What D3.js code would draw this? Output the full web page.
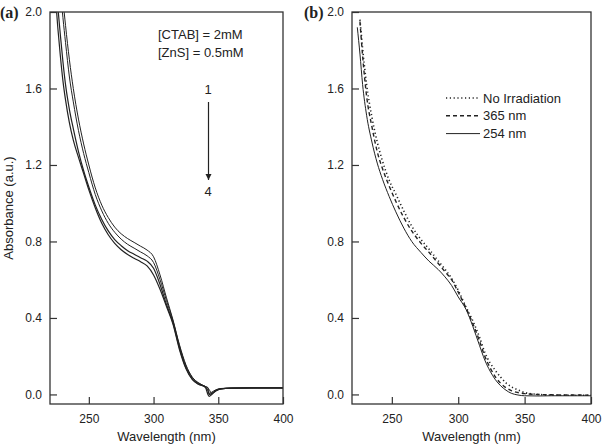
<!DOCTYPE html>
<html>
<head>
<meta charset="utf-8">
<script src="https://cdn.jsdelivr.net/npm/d3@7"></script>
<style>
  body { margin: 0; background: #fff; }
  svg { display: block; font-family: 'Liberation Sans', Arial, sans-serif; }
</style>
</head>
<body>
<svg id="chart" width="602" height="445"></svg>
<script>
/* ---------- data ---------- */
const xTicks = [250, 300, 350, 400];
const yTicks = [0, 0.4, 0.8, 1.2, 1.6, 2.0];

// panel (a): spectra 1..4
const waveA = [224, 226, 228, 230, 232, 235, 238, 242, 246, 250, 255, 260, 265, 270, 275, 280, 285, 290,
  295, 300, 305, 310, 315, 320, 325, 330, 335, 340, 342, 343, 345, 348, 352, 360, 380, 400];
const absA1 = [2.6, 2.42, 2.26, 2.07, 1.93, 1.75, 1.6, 1.44, 1.31, 1.2, 1.08, 0.99, 0.925, 0.875, 0.84, 0.815,
  0.795, 0.775, 0.755, 0.72, 0.625, 0.505, 0.39, 0.26, 0.155, 0.09, 0.06, 0.042, 0.036, 0.005, 0.012, 0.024,
  0.03, 0.033, 0.034, 0.034];
const absA2 = [2.45, 2.27, 2.12, 1.97, 1.84, 1.66, 1.53, 1.38, 1.26, 1.16, 1.045, 0.96, 0.895, 0.848, 0.812,
  0.785, 0.765, 0.745, 0.725, 0.69, 0.6, 0.49, 0.385, 0.255, 0.15, 0.087, 0.058, 0.041, 0.034, 0.025, 0.004,
  0.018, 0.028, 0.033, 0.034, 0.034];
const absA3 = [2.2, 2.03, 1.88, 1.74, 1.62, 1.49, 1.39, 1.27, 1.17, 1.085, 0.99, 0.915, 0.855, 0.81, 0.778,
  0.752, 0.733, 0.715, 0.697, 0.66, 0.575, 0.47, 0.375, 0.243, 0.14, 0.08, 0.054, 0.039, 0.02, 0.0, 0.006,
  0.02, 0.03, 0.033, 0.034, 0.034];
const absA4 = [2.1, 1.92, 1.77, 1.64, 1.54, 1.42, 1.33, 1.24, 1.155, 1.07, 0.975, 0.895, 0.835, 0.79, 0.757,
  0.732, 0.712, 0.694, 0.672, 0.625, 0.55, 0.46, 0.368, 0.235, 0.135, 0.077, 0.052, 0.038, 0.0, -0.01, 0.0,
  0.018, 0.029, 0.033, 0.034, 0.034];

// panel (b): irradiation
const waveB = [224, 226, 228, 231, 235, 239, 243, 248, 253, 259, 265, 272, 278, 285, 290, 295, 300, 306, 311,
  316, 320, 324, 328, 332, 336, 340, 345, 350, 360, 370, 380, 390, 400];
const absNone = [null, 1.96, 1.81, 1.62, 1.45, 1.32, 1.22, 1.12, 1.048, 0.96, 0.88, 0.81, 0.76, 0.698, 0.655,
  0.607, 0.545, 0.455, 0.385, 0.3, 0.22, 0.165, 0.125, 0.09, 0.06, 0.04, 0.024, 0.01, 0.0, -0.003, -0.004,
  -0.004, -0.004];
const abs365 = [null, 1.95, 1.77, 1.56, 1.4, 1.27, 1.18, 1.09, 1.01, 0.925, 0.855, 0.79, 0.743, 0.685, 0.642,
  0.6, 0.535, 0.45, 0.37, 0.28, 0.2, 0.14, 0.092, 0.058, 0.035, 0.02, 0.01, 0.004, 0.0, -0.002, -0.003,
  -0.003, -0.004];
const abs254 = [1.92, 1.78, 1.62, 1.46, 1.32, 1.21, 1.125, 1.035, 0.955, 0.87, 0.8, 0.742, 0.697, 0.653, 0.615,
  0.57, 0.51, 0.443, 0.356, 0.257, 0.18, 0.122, 0.077, 0.045, 0.022, 0.006, -0.003, -0.007, -0.008, -0.007,
  -0.007, -0.007, -0.007];
const legendB = ['No Irradiation', '365 nm', '254 nm'];

/* ---------- panel helper ---------- */
const svg = d3.select('#chart');
const ink = '#222';

function drawPanel(id, left, right, label, labelX, series) {
  const x = d3.scaleLinear().domain([220, 400]).range([left, right]);
  const y = d3.scaleLinear().domain([-0.05, 2.0]).range([404, 12]);
  const g = svg.append('g');

  g.append('clipPath')
    .attr('id', 'clip-' + id)
    .append('rect')
    .attr('x', left).attr('y', 12)
    .attr('width', right - left).attr('height', 392);

  const line = d3.line()
    .defined(d => d[1] != null)
    .x(d => x(d[0]))
    .y(d => y(d[1]))
    .curve(d3.curveMonotoneX);

  series.forEach(s => {
    g.append('path')
      .datum(s.wave.map((w, i) => [w, s.vals[i]]))
      .attr('clip-path', `url(#clip-${id})`)
      .attr('fill', 'none')
      .attr('stroke', ink)
      .attr('stroke-width', s.width || 1)
      .attr('stroke-dasharray', s.dash || null)
      .attr('d', line);
  });

  // axes, ticks pointing inward
  g.append('g')
    .attr('transform', 'translate(0,404)')
    .call(d3.axisBottom(x).tickValues(xTicks).tickSizeInner(-7).tickSizeOuter(0).tickPadding(10))
    .call(a => a.select('.domain').remove())
    .call(a => a.selectAll('text').attr('font-size', 12).attr('fill', ink).attr('font-family', null));

  g.append('g')
    .attr('transform', `translate(${left},0)`)
    .call(d3.axisLeft(y).tickValues(yTicks).tickFormat(d3.format('.1f')).tickSizeInner(-7).tickSizeOuter(0).tickPadding(8))
    .call(a => a.select('.domain').remove())
    .call(a => a.selectAll('text').attr('font-size', 12).attr('fill', ink).attr('font-family', null));

  g.selectAll('.tick line').attr('stroke', '#333').attr('stroke-width', 1.2);

  g.append('rect')
    .attr('x', left).attr('y', 12)
    .attr('width', right - left).attr('height', 392)
    .attr('fill', 'none')
    .attr('stroke', '#333')
    .attr('stroke-width', 1.3);

  g.append('text')
    .attr('x', (left + right) / 2)
    .attr('y', 441)
    .attr('text-anchor', 'middle')
    .attr('font-size', 13)
    .attr('fill', ink)
    .text('Wavelength (nm)');

  g.append('text')
    .attr('x', labelX)
    .attr('y', 18)
    .attr('font-family', "'Liberation Serif', 'Times New Roman', serif")
    .attr('font-weight', 'bold')
    .attr('font-size', 16)
    .attr('fill', ink)
    .text(label);

  return { x, y, g };
}

/* ---------- panel (a) ---------- */
const pa = drawPanel('a', 50, 283, '(a)', 0, [
  { wave: waveA, vals: absA1 },
  { wave: waveA, vals: absA2 },
  { wave: waveA, vals: absA3, width: 1.2 },
  { wave: waveA, vals: absA4, width: 1.2 }
]);

svg.append('text')
  .attr('transform', 'translate(13,208) rotate(-90)')
  .attr('text-anchor', 'middle')
  .attr('font-size', 13)
  .attr('fill', ink)
  .text('Absorbance (a.u.)');

pa.g.append('text').attr('x', 158).attr('y', 39).attr('font-size', 13).attr('fill', ink).text('[CTAB] = 2mM');
pa.g.append('text').attr('x', 158).attr('y', 57).attr('font-size', 13).attr('fill', ink).text('[ZnS] = 0.5mM');
pa.g.append('text').attr('x', 208).attr('y', 94).attr('text-anchor', 'middle').attr('font-size', 13).attr('fill', ink).text('1');
pa.g.append('text').attr('x', 208).attr('y', 196).attr('text-anchor', 'middle').attr('font-size', 13).attr('fill', ink).text('4');

svg.append('defs').append('marker')
  .attr('id', 'arrow')
  .attr('viewBox', '0 0 10 10')
  .attr('refX', 10).attr('refY', 5)
  .attr('markerWidth', 6).attr('markerHeight', 12)
  .attr('markerUnits', 'userSpaceOnUse')
  .attr('orient', 'auto')
  .append('path')
  .attr('d', 'M0,0 L10,5 L0,10 Z')
  .attr('fill', ink);

pa.g.append('line')
  .attr('x1', 208.5).attr('x2', 208.5)
  .attr('y1', 102).attr('y2', 180)
  .attr('stroke', ink)
  .attr('stroke-width', 1.2)
  .attr('marker-end', 'url(#arrow)');

/* ---------- panel (b) ---------- */
const styleB = [
  { dash: '1.2,2.6', width: 1.6 },
  { dash: '4,3', width: 1.4 },
  { dash: null, width: 1 }
];
const pb = drawPanel('b', 352, 591, '(b)', 304, [
  { wave: waveB, vals: absNone, ...styleB[0] },
  { wave: waveB, vals: abs365, ...styleB[1] },
  { wave: waveB, vals: abs254, ...styleB[2] }
]);

legendB.forEach((name, i) => {
  const ly = 98 + i * 17.8;
  pb.g.append('line')
    .attr('x1', 446).attr('x2', 480)
    .attr('y1', ly).attr('y2', ly)
    .attr('stroke', ink)
    .attr('stroke-width', styleB[i].width)
    .attr('stroke-dasharray', styleB[i].dash);
  pb.g.append('text')
    .attr('x', 483)
    .attr('y', ly + 4.5)
    .attr('font-size', 13)
    .attr('fill', ink)
    .text(name);
});
</script>
</body>
</html>
